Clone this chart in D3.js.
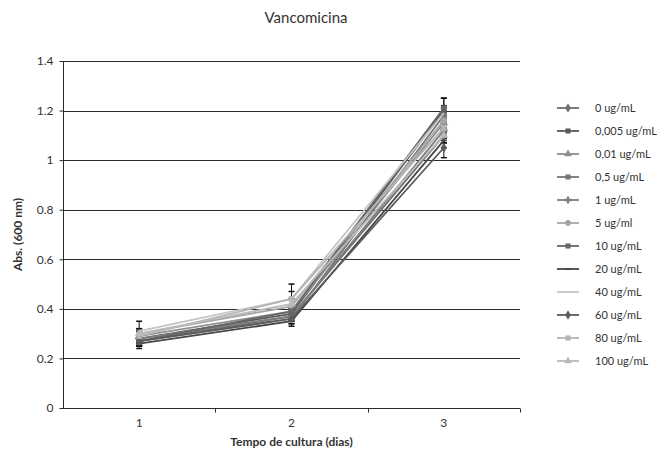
<!DOCTYPE html>
<html>
<head>
<meta charset="utf-8">
<script src="https://cdn.jsdelivr.net/npm/d3@7"></script>
<style>
  body { margin: 0; background: #fff; }
  text { font-family: Lato, "Open Sans", sans-serif; fill: #333; }
</style>
</head>
<body>
<div id="chart"></div>
<script>
// data
let days = ["1", "2", "3"];
let yTicks = [0, 0.2, 0.4, 0.6, 0.8, 1, 1.2, 1.4];
let seriesNames = ["0 ug/mL", "0,005 ug/mL", "0,01 ug/mL", "0,5 ug/mL", "1 ug/mL", "5 ug/ml",
                   "10 ug/mL", "20 ug/mL", "40 ug/mL", "60 ug/mL", "80 ug/mL", "100 ug/mL"];
let seriesValues = [
    [0.27, 0.37, 1.10],
    [0.28, 0.38, 1.20],
    [0.29, 0.39, 1.15],
    [0.27, 0.36, 1.18],
    [0.28, 0.37, 1.12],
    [0.30, 0.41, 1.16],
    [0.27, 0.39, 1.21],
    [0.26, 0.35, 1.08],
    [0.31, 0.44, 1.19],
    [0.27, 0.36, 1.05],
    [0.29, 0.44, 1.13],
    [0.30, 0.42, 1.10]
];
let seriesErrors = [
    [0.02, 0.02, 0.03],
    [0.02, 0.02, 0.05],
    [0.02, 0.02, 0.03],
    [0.02, 0.02, 0.03],
    [0.02, 0.02, 0.03],
    [0.02, 0.03, 0.03],
    [0.02, 0.02, 0.04],
    [0.02, 0.02, 0.03],
    [0.04, 0.06, 0.03],
    [0.02, 0.02, 0.04],
    [0.02, 0.03, 0.03],
    [0.02, 0.02, 0.03]
];
let seriesColors = ["#6e6e6e", "#5a5a5a", "#8e8e8e", "#767676", "#7c7c7c", "#a6a6a6",
                    "#666666", "#474747", "#c4c4c4", "#5c5c5c", "#b4b4b4", "#bababa"];
let seriesMarkers = ["diamond", "square", "triangle", "square", "cross", "circle",
                     "square", "dash", "none", "diamond", "square", "triangle"];

let width = 659, height = 451;
let margin = {top: 61, right: 139, bottom: 43, left: 63};

let svg = d3.select("#chart")
    .append("svg")
    .attr("width", width)
    .attr("height", height);

let g = svg.append("g")
    .attr("transform", "translate(" + margin.left + "," + margin.top + ")");

let innerW = width - margin.left - margin.right;
let innerH = height - margin.top - margin.bottom;

let x = d3.scaleBand().domain(days).range([0, innerW]);
let y = d3.scaleLinear().domain([0, 1.4]).range([innerH, 0]);

// gridlines
g.append("g")
    .selectAll("line")
    .data(yTicks.filter(d => d > 0))
    .enter()
    .append("line")
    .attr("x1", 0)
    .attr("x2", innerW)
    .attr("y1", d => Math.round(y(d)) + 0.5)
    .attr("y2", d => Math.round(y(d)) + 0.5)
    .attr("stroke", "#2b2b2b")
    .attr("stroke-width", 1);

// y axis
let yAxis = g.append("g")
    .attr("transform", "translate(0.5,0)")
    .call(d3.axisLeft(y).tickValues(yTicks).tickSize(4).tickPadding(6)
        .tickFormat(d => d3.format("")(+d.toFixed(1))));
yAxis.select(".domain").attr("stroke", "#2b2b2b").attr("d", "M0," + innerH + "V0");
yAxis.selectAll(".tick line").attr("stroke", "#2b2b2b");
yAxis.selectAll("text").style("font-size", "12px").attr("fill", "#333");

// x axis, ticks on category boundaries
let xAxis = g.append("g")
    .attr("transform", "translate(0," + (Math.round(y(0)) + 0.5) + ")");
xAxis.append("line")
    .attr("x1", 0).attr("x2", innerW)
    .attr("stroke", "#2b2b2b");
xAxis.selectAll(".bt")
    .data(days)
    .enter()
    .append("line")
    .attr("x1", d => Math.round(x(d) + x.bandwidth()) + 0.5)
    .attr("x2", d => Math.round(x(d) + x.bandwidth()) + 0.5)
    .attr("y1", 0).attr("y2", 4)
    .attr("stroke", "#2b2b2b");
xAxis.selectAll(".lbl")
    .data(days)
    .enter()
    .append("text")
    .attr("x", d => x(d) + x.bandwidth() / 2)
    .attr("y", 18)
    .style("text-anchor", "middle")
    .style("font-size", "12px")
    .text(d => d);

let cx = d => x(d) + x.bandwidth() / 2;

// error bars
seriesValues.forEach(function(vals, si) {
    let eb = g.append("g");
    days.forEach(function(day, di) {
        let v = vals[di], e = seriesErrors[si][di];
        eb.append("line")
            .attr("x1", cx(day)).attr("x2", cx(day))
            .attr("y1", y(v - e)).attr("y2", y(v + e))
            .attr("stroke", "#111").attr("stroke-width", 1);
        [v - e, v + e].forEach(function(t) {
            eb.append("line")
                .attr("x1", cx(day) - 3).attr("x2", cx(day) + 3)
                .attr("y1", y(t)).attr("y2", y(t))
                .attr("stroke", "#111").attr("stroke-width", 1.5);
        });
    });
});

function drawMarker(sel, type, color, px, py, s) {
    if (type == "none") return;
    if (type == "dash") {
        sel.append("rect").attr("x", px - 3).attr("y", py - 1).attr("width", 6).attr("height", 2).attr("fill", color);
        return;
    }
    let sym = {diamond: d3.symbolDiamond, square: d3.symbolSquare, triangle: d3.symbolTriangle,
               cross: d3.symbolCross, circle: d3.symbolCircle}[type];
    sel.append("path")
        .attr("d", d3.symbol().type(sym).size(s))
        .attr("transform", "translate(" + px + "," + py + ")")
        .attr("fill", color);
}

let line = d3.line()
    .x((d, i) => cx(days[i]))
    .y(d => y(d));

seriesValues.forEach(function(vals, si) {
    let sg = g.append("g");
    sg.append("path")
        .datum(vals)
        .attr("d", line)
        .attr("fill", "none")
        .attr("stroke", seriesColors[si])
        .attr("stroke-width", 1.8);
    vals.forEach(function(v, di) {
        drawMarker(sg, seriesMarkers[si], seriesColors[si], cx(days[di]), y(v), 32);
    });
});

// legend
let legend = svg.append("g").attr("transform", "translate(557,108)");
seriesNames.forEach(function(name, i) {
    let row = legend.append("g").attr("transform", "translate(0," + (i * 23) + ")");
    row.append("line")
        .attr("x1", 0).attr("x2", 22)
        .attr("stroke", seriesColors[i]).attr("stroke-width", 1.8);
    drawMarker(row, seriesMarkers[i], seriesColors[i], 11, 0, 26);
    row.append("text")
        .attr("x", 38).attr("y", 4)
        .style("font-size", "11px")
        .text(name);
});

// title and axis titles
svg.append("text")
    .attr("x", 306).attr("y", 23)
    .style("text-anchor", "middle")
    .style("font-size", "15px")
    .text("Vancomicina");

svg.append("text")
    .attr("transform", "translate(" + 22 + "," + (margin.top + innerH / 2) + ") rotate(-90)")
    .style("text-anchor", "middle")
    .style("font-size", "12px")
    .style("font-weight", "bold")
    .text("Abs. (600 nm)");

svg.append("text")
    .attr("x", margin.left + innerW / 2).attr("y", 446)
    .style("text-anchor", "middle")
    .style("font-size", "12px")
    .style("font-weight", "bold")
    .text("Tempo de cultura (dias)");
</script>
</body>
</html>
